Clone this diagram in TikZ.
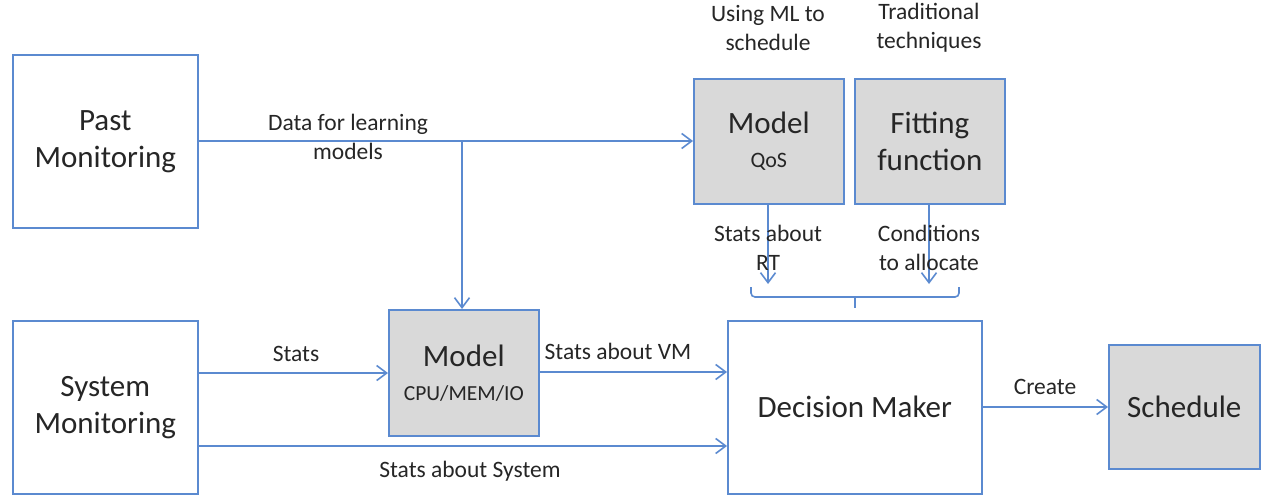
\documentclass[tikz,border=0pt]{standalone}
\usepackage{fontspec}
\setmainfont{Carlito}
\usetikzlibrary{arrows.meta}
\definecolor{lineblue}{HTML}{5B8AD0}
\definecolor{boxgray}{HTML}{D9D9D9}
\definecolor{txt}{HTML}{262626}
\begin{document}
\begin{tikzpicture}[x=1pt,y=-1pt,
  box/.style={draw=lineblue,line width=1.6pt,inner sep=0pt,anchor=north west,text=txt,align=center},
  gbox/.style={box,fill=boxgray},
  conn/.style={draw=lineblue,line width=1.6pt,-{Straight Barb[length=10pt,width=15pt,line width=1.6pt]}},
  plain/.style={draw=lineblue,line width=1.6pt},
  big/.style={font=\fontsize{31}{37}\selectfont},
  mdl/.style={font=\fontsize{31}{34}\selectfont},
  lbl/.style={text=txt,align=center,inner sep=0pt,font=\fontsize{23.5}{29}\selectfont},
]
\useasboundingbox (0,0) rectangle (1266,498);
% boxes
\node[box,minimum width=185pt,minimum height=173pt,big] (past) at (12,54) {Past\\Monitoring};
\node[box,minimum width=185pt,minimum height=173pt,big] (sys) at (12,320) {System\\Monitoring};
\node[gbox,minimum width=150pt,minimum height=126pt,mdl] (mcpu) at (388,309) {Model\\{\fontsize{21.5}{26}\selectfont CPU/MEM/IO}};
\node[gbox,minimum width=150pt,minimum height=125pt,mdl] (mqos) at (693,78) {Model\\{\fontsize{22}{26}\selectfont QoS}};
\node[gbox,minimum width=150pt,minimum height=125pt,big] (fit) at (854,78) {Fitting\\function};
\node[box,minimum width=254pt,minimum height=173pt,big] (dm) at (727,320) {Decision Maker};
\node[gbox,minimum width=151pt,minimum height=124pt,big] (sched) at (1108,344) {Schedule};
% top labels
\node[lbl] (lml) at (768,28) {Using ML to\\schedule};
\node[lbl] (ltr) at (929,28) {Traditional\\techniques};
% connectors
\coordinate (br) at (462,141);
\draw[conn] (past.east |- br) -- (br) -- (mqos.west |- br);
\draw[conn] (br) -- (mcpu.north -| br);
\node[lbl] (ldata) at (348,137) {Data for learning\\models};
\coordinate (ys) at (0,373);
\draw[conn] (sys.east |- ys) -- (mcpu.west |- ys);
\node[lbl] (lstats) at (296,354) {Stats};
\coordinate (yvm) at (0,372);
\draw[conn] (mcpu.east |- yvm) -- (dm.west |- yvm);
\node[lbl] (lvm) at (618,351) {Stats about VM};
\coordinate (ysy) at (0,446);
\draw[conn] (sys.east |- ysy) -- (dm.west |- ysy);
\node[lbl] (lsys) at (470,471) {Stats about System};
\coordinate (yc) at (0,407);
\draw[conn] (dm.east |- yc) -- (sched.west |- yc);
\node[lbl] (lcreate) at (1045,387) {Create};
% down arrows to brace
\coordinate (qa) at (768,284);
\coordinate (fa) at (929,284);
\draw[conn] (mqos.south -| qa) -- (qa);
\draw[conn] (fit.south -| fa) -- (fa);
\node[lbl] (lrt) at (768,248) {Stats about\\RT};
\node[lbl] (lcond) at (929,248) {Conditions\\to allocate};
% brace
\coordinate (bl) at (751,287);
\coordinate (brr) at (959,287);
\coordinate (bm) at (855,308);
\draw[plain,rounded corners=4pt] (bl) -- (751,297) -- (959,297) -- (brr);
\draw[plain] (855,297) -- (bm);
\end{tikzpicture}
\end{document}
